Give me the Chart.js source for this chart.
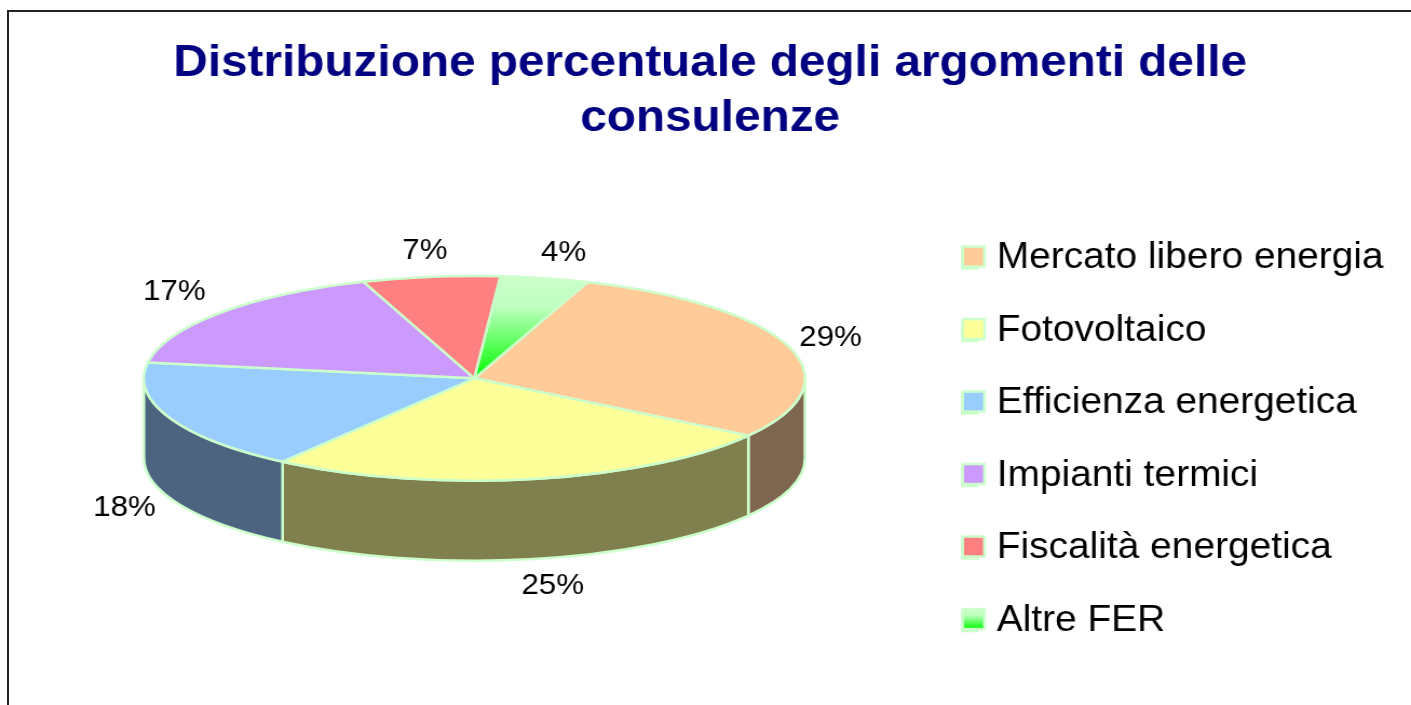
<!DOCTYPE html>
<html>
<head>
<meta charset="utf-8">
<title>Distribuzione percentuale</title>
<script src="https://cdn.jsdelivr.net/npm/chart.js@4"></script>
<style>
  html, body { margin: 0; padding: 0; background: #fff; overflow: hidden; }
  #frame { position: absolute; left: 7px; top: 10px; right: 0; bottom: 0; border-left: 2px solid #222; border-top: 2px solid #222; }
  /* the reference is stretched sideways, text included */
  canvas { position: absolute; left: 0; top: 0; transform: scaleX(1.0796); transform-origin: 0 0; }
</style>
</head>
<body>
<div id="frame"></div>
<canvas id="myChart" width="1307" height="705"></canvas>
<script>
var categories = ['Mercato libero energia', 'Fotovoltaico', 'Efficienza energetica', 'Impianti termici', 'Fiscalità energetica', 'Altre FER'];
// the labels show them rounded
var percentages = [28.9, 25.4, 17.6, 17.1, 6.7, 4.3];
var topColors = ['#FFCC99', '#FFFF99', '#99CCFF', '#CC99FF', '#FF8080', '#CCFFCC'];
var sideColors = ['#7F6650', '#80804F', '#4D6480', '#66507F', '#804040', '#008000'];
var titleLines = ['Distribuzione percentuale degli argomenti delle', 'consulenze'];

var FONT = '"Liberation Sans", Arial, sans-serif';
var EDGE = '#CCFFCC';

// the flat pie from Chart.js gets squashed into a tilted disc
var tilt = { dy: -61.5, sx: 1.16, sy: 0.38795, depth: 80 };
// hand nudges for the percent labels, same order as the slices
var labelNudge = [[-1, 1], [10.7, -3], [-3.5, -2], [-10, -2], [-0.3, 4], [8.7, 4]];

function disc(arc) {
    return {
        x: arc.x,
        y: arc.y + tilt.dy,
        rx: arc.outerRadius * tilt.sx,
        ry: arc.outerRadius * tilt.sy
    };
}

function greenFade(ctx, y0, y1) {
    var g = ctx.createLinearGradient(0, y0, 0, y1);
    g.addColorStop(0, '#CCFFCC');
    g.addColorStop(0.3, '#BFFFBF');
    g.addColorStop(1, '#00FF00');
    return g;
}

var pie3d = {
    id: 'pie3d',
    afterLayout: function (chart) {
        // the legend keeps the text, the swatches are painted in afterDraw
        chart.legend.legendItems.forEach(function (item) {
            item.fillStyle = 'rgba(0,0,0,0)';
            item.lineWidth = 0;
        });
    },
    beforeDatasetDraw: function (chart) {
        var ctx = chart.ctx;
        var arcs = chart.getDatasetMeta(0).data;
        ctx.save();
        ctx.lineWidth = 2.5;
        ctx.lineJoin = 'round';
        ctx.strokeStyle = EDGE;

        // walls, only the front half of the rim shows
        arcs.forEach(function (arc, i) {
            var d = disc(arc);
            for (var turn = -2; turn <= 2; turn += 2) {
                var a = Math.max(arc.startAngle, turn * Math.PI);
                var b = Math.min(arc.endAngle, (turn + 1) * Math.PI);
                if (b <= a) continue;
                ctx.beginPath();
                ctx.ellipse(d.x, d.y, d.rx, d.ry, 0, a, b);
                ctx.ellipse(d.x, d.y + tilt.depth, d.rx, d.ry, 0, b, a, true);
                ctx.closePath();
                ctx.fillStyle = sideColors[i];
                ctx.fill();
                ctx.stroke();
            }
        });

        // top face
        arcs.forEach(function (arc, i) {
            var d = disc(arc);
            ctx.beginPath();
            ctx.moveTo(d.x, d.y);
            ctx.ellipse(d.x, d.y, d.rx, d.ry, 0, arc.startAngle, arc.endAngle);
            ctx.closePath();
            ctx.fillStyle = i === arcs.length - 1 ? greenFade(ctx, d.y - d.ry, d.y) : topColors[i];
            ctx.fill();
            ctx.stroke();
        });
        ctx.restore();
        return false;
    },
    afterDatasetsDraw: function (chart) {
        var ctx = chart.ctx;
        ctx.save();
        ctx.font = '29px ' + FONT;
        ctx.fillStyle = '#000';
        ctx.textAlign = 'center';
        ctx.textBaseline = 'middle';
        chart.getDatasetMeta(0).data.forEach(function (arc, i) {
            var d = disc(arc);
            var mid = (arc.startAngle + arc.endAngle) / 2;
            var lx = d.x + (d.rx + 41.7) * Math.cos(mid);
            var ly = d.y + (d.ry + 30) * Math.sin(mid);
            if (Math.sin(mid) > 0) ly += tilt.depth;
            ctx.fillText(Math.round(percentages[i]) + '%', lx + labelNudge[i][0], ly + labelNudge[i][1]);
        });
        ctx.restore();
    },
    afterDraw: function (chart) {
        var ctx = chart.ctx;
        var boxes = chart.legend.legendHitBoxes;
        ctx.save();
        ctx.lineWidth = 2.5;
        ctx.strokeStyle = EDGE;
        boxes.forEach(function (box, i) {
            var top = box.top + (box.height - 20) / 2 - 2;
            ctx.fillStyle = i === boxes.length - 1 ? greenFade(ctx, top, top + 20) : topColors[i];
            ctx.fillRect(box.left + 0.5, top, 20, 20);
            ctx.strokeRect(box.left + 0.5, top, 20, 20);
        });
        ctx.restore();
    }
};

var ctx = document.getElementById('myChart').getContext('2d');
var chart = new Chart(ctx, {
    type: 'pie',
    data: {
        labels: categories,
        datasets: [{
            data: percentages,
            backgroundColor: topColors,
            borderColor: EDGE,
            borderWidth: 2.5
        }]
    },
    options: {
        responsive: false,
        animation: false,
        rotation: 20,
        layout: { padding: { left: 24.1, right: 15.5, top: 0, bottom: 0 } },
        plugins: {
            title: {
                display: true,
                text: titleLines,
                color: '#000080',
                font: { family: FONT, size: 44.2, weight: 'bold', lineHeight: 1.24 },
                padding: { top: 36.5, bottom: 28.5 }
            },
            legend: {
                position: 'right',
                fullSize: false,
                labels: {
                    color: '#000',
                    font: { family: FONT, size: 36 },
                    boxWidth: 14,
                    boxHeight: 20,
                    padding: 36.5
                }
            },
            tooltip: { enabled: false }
        }
    },
    plugins: [pie3d]
});
</script>
</body>
</html>
